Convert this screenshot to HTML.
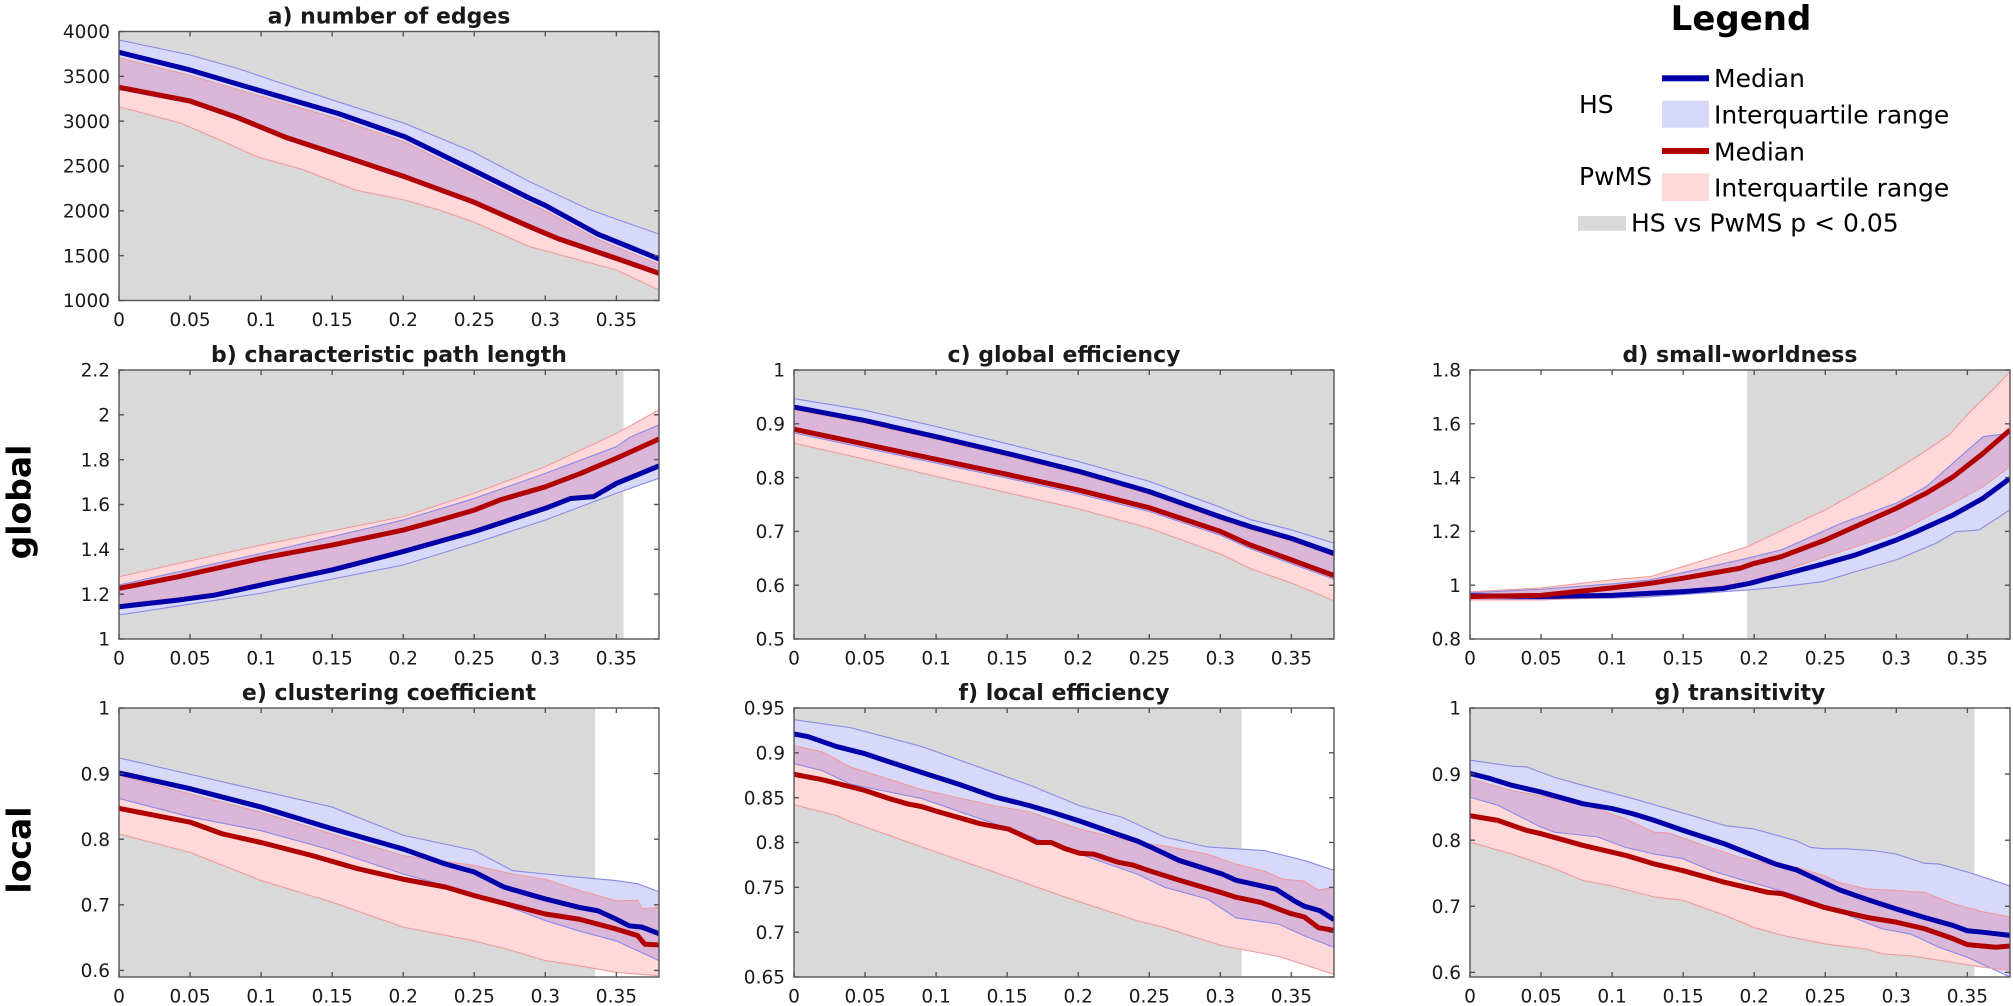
<!DOCTYPE html>
<html><head><meta charset="utf-8">
<style>
html,body{margin:0;padding:0;background:#fff;}
svg{display:block;}
text{font-family:"DejaVu Sans","Liberation Sans",sans-serif;fill:#1a1a1a;}
.tk{font-size:18.5px;}
.tt{font-size:22px;font-weight:bold;fill:#000;}
.lg{font-size:25px;fill:#000;}
.big{font-size:33px;font-weight:bold;fill:#000;}
</style></head><body>
<svg id="s" width="2013" height="1006" viewBox="0 0 2013 1006" xmlns="http://www.w3.org/2000/svg">
<rect x="0" y="0" width="2013" height="1006" fill="#fff"/>
<g id="plots"></g>

<!-- titles -->
<g class="tt" text-anchor="middle">
<text x="389" y="23.5">a) number of edges</text>
<text x="389" y="362">b) characteristic path length</text>
<text x="1064" y="362">c) global efficiency</text>
<text x="1740" y="362">d) small-worldness</text>
<text x="389" y="700">e) clustering coefficient</text>
<text x="1064" y="700">f) local efficiency</text>
<text x="1740" y="700">g) transitivity</text>
</g>

<!-- x tick labels -->
<g class="tk" text-anchor="middle">
<text x="119" y="326">0</text><text x="190.05" y="326">0.05</text><text x="261.1" y="326">0.1</text><text x="332.2" y="326">0.15</text><text x="403.2" y="326">0.2</text><text x="474.3" y="326">0.25</text><text x="545.3" y="326">0.3</text><text x="616.4" y="326">0.35</text>

<text x="119" y="664.5">0</text><text x="190.05" y="664.5">0.05</text><text x="261.1" y="664.5">0.1</text><text x="332.2" y="664.5">0.15</text><text x="403.2" y="664.5">0.2</text><text x="474.3" y="664.5">0.25</text><text x="545.3" y="664.5">0.3</text><text x="616.4" y="664.5">0.35</text>
<text x="794" y="664.5">0</text><text x="865.05" y="664.5">0.05</text><text x="936.1" y="664.5">0.1</text><text x="1007.2" y="664.5">0.15</text><text x="1078.2" y="664.5">0.2</text><text x="1149.3" y="664.5">0.25</text><text x="1220.3" y="664.5">0.3</text><text x="1291.4" y="664.5">0.35</text>
<text x="1470" y="664.5">0</text><text x="1541.05" y="664.5">0.05</text><text x="1612.1" y="664.5">0.1</text><text x="1683.2" y="664.5">0.15</text><text x="1754.2" y="664.5">0.2</text><text x="1825.3" y="664.5">0.25</text><text x="1896.3" y="664.5">0.3</text><text x="1967.4" y="664.5">0.35</text>

<text x="119" y="1002.5">0</text><text x="190.05" y="1002.5">0.05</text><text x="261.1" y="1002.5">0.1</text><text x="332.2" y="1002.5">0.15</text><text x="403.2" y="1002.5">0.2</text><text x="474.3" y="1002.5">0.25</text><text x="545.3" y="1002.5">0.3</text><text x="616.4" y="1002.5">0.35</text>
<text x="794" y="1002.5">0</text><text x="865.05" y="1002.5">0.05</text><text x="936.1" y="1002.5">0.1</text><text x="1007.2" y="1002.5">0.15</text><text x="1078.2" y="1002.5">0.2</text><text x="1149.3" y="1002.5">0.25</text><text x="1220.3" y="1002.5">0.3</text><text x="1291.4" y="1002.5">0.35</text>
<text x="1470" y="1002.5">0</text><text x="1541.05" y="1002.5">0.05</text><text x="1612.1" y="1002.5">0.1</text><text x="1683.2" y="1002.5">0.15</text><text x="1754.2" y="1002.5">0.2</text><text x="1825.3" y="1002.5">0.25</text><text x="1896.3" y="1002.5">0.3</text><text x="1967.4" y="1002.5">0.35</text>
</g>

<!-- y tick labels -->
<g class="tk" text-anchor="end">
<text x="110" y="38.2">4000</text><text x="110" y="83">3500</text><text x="110" y="127.9">3000</text><text x="110" y="172.7">2500</text><text x="110" y="217.5">2000</text><text x="110" y="262.4">1500</text><text x="110" y="307.2">1000</text>

<text x="110" y="376.7">2.2</text><text x="110" y="421.5">2</text><text x="110" y="466.4">1.8</text><text x="110" y="511.2">1.6</text><text x="110" y="556">1.4</text><text x="110" y="600.9">1.2</text><text x="110" y="645.7">1</text>

<text x="785" y="376.7">1</text><text x="785" y="430.5">0.9</text><text x="785" y="484.3">0.8</text><text x="785" y="538.1">0.7</text><text x="785" y="591.9">0.6</text><text x="785" y="645.7">0.5</text>

<text x="1461" y="376.7">1.8</text><text x="1461" y="430.5">1.6</text><text x="1461" y="484.3">1.4</text><text x="1461" y="538.1">1.2</text><text x="1461" y="591.9">1</text><text x="1461" y="645.7">0.8</text>

<text x="110" y="714.7">1</text><text x="110" y="780.3">0.9</text><text x="110" y="845.9">0.8</text><text x="110" y="911.5">0.7</text><text x="110" y="977.1">0.6</text>

<text x="785" y="714.7">0.95</text><text x="785" y="759.5">0.9</text><text x="785" y="804.4">0.85</text><text x="785" y="849.2">0.8</text><text x="785" y="894">0.75</text><text x="785" y="938.9">0.7</text><text x="785" y="983.7">0.65</text>

<text x="1461" y="714.7">1</text><text x="1461" y="780.8">0.9</text><text x="1461" y="846.9">0.8</text><text x="1461" y="913">0.7</text><text x="1461" y="979.1">0.6</text>
</g>

<!-- row labels -->
<text class="big" text-anchor="middle" transform="translate(30.5,502) rotate(-90)">global</text>
<text class="big" text-anchor="middle" transform="translate(30.5,850) rotate(-90)">local</text>

<!-- legend -->
<text x="1741" y="30" text-anchor="middle" style="font-size:34px;font-weight:bold;fill:#000">Legend</text>
<rect x="1662" y="75.3" width="47" height="6" fill="#0000a8"/>
<text class="lg" x="1714" y="87">Median</text>
<text class="lg" x="1579" y="113">HS</text>
<rect x="1662" y="100.7" width="47" height="27" fill="#d8d8fa"/>
<text class="lg" x="1714" y="123.5">Interquartile range</text>
<rect x="1662" y="148" width="47" height="6" fill="#b00000"/>
<text class="lg" x="1714" y="160.7">Median</text>
<text class="lg" x="1579" y="185">PwMS</text>
<rect x="1662" y="173.3" width="47" height="27.7" fill="#ffd9d9"/>
<text class="lg" x="1714" y="196.7">Interquartile range</text>
<rect x="1578" y="216" width="48" height="14.7" fill="#d9d9d9"/>
<text class="lg" x="1631" y="231.7">HS vs PwMS p &lt; 0.05</text>
</svg>

<script>
(function(){
const NS="http://www.w3.org/2000/svg";
const root=document.getElementById('plots');
function el(tag,attrs,parent){const e=document.createElementNS(NS,tag);for(const k in attrs)e.setAttribute(k,attrs[k]);(parent||root).appendChild(e);return e;}
const W=540,H=269,XM=0.38;
function sh(a,d){return a.map(p=>[p[0],p[1]+d]);}

const A_bm=[[0,3768],[0.05,3571],[0.1016,3329],[0.1537,3088],[0.201,2827],[0.249,2456],[0.289,2140],[0.3,2060],[0.337,1740],[0.38,1463]];
const A_rm=[[0,3378],[0.05,3225],[0.083,3043],[0.118,2816],[0.166,2567],[0.201,2381],[0.249,2102],[0.289,1823],[0.309,1690],[0.35,1470],[0.38,1304]];
const B_bm=[[0,1.144],[0.042,1.174],[0.0675,1.196],[0.105,1.248],[0.15,1.308],[0.2,1.390],[0.25,1.479],[0.3,1.583],[0.318,1.627],[0.334,1.635],[0.35,1.694],[0.38,1.772]];
const C_bm=[[0,0.931],[0.05,0.906],[0.1,0.876],[0.15,0.845],[0.2,0.812],[0.25,0.774],[0.3,0.727],[0.321,0.709],[0.35,0.687],[0.38,0.659]];
const C_rm=[[0,0.890],[0.05,0.862],[0.1,0.834],[0.15,0.806],[0.2,0.777],[0.25,0.744],[0.3,0.700],[0.321,0.675],[0.35,0.647],[0.38,0.618]];

const panels=[
{L:119,T:31.5,y0:1000,y1:4000,g:[0,0.38],yt:[1000,1500,2000,2500,3000,3500,4000],
 bm:A_bm, rm:A_rm,
 bu:[[0,3905],[0.05,3738],[0.083,3590],[0.118,3403],[0.154,3217],[0.201,2976],[0.249,2659],[0.289,2325],[0.33,2020],[0.38,1740]],
 bl:sh(A_rm,-25), ru:sh(A_bm,-60),
 rl:[[0,3161],[0.0437,2976],[0.071,2790],[0.097,2604],[0.13,2456],[0.166,2233],[0.201,2121],[0.225,2010],[0.249,1879],[0.289,1600],[0.35,1340],[0.38,1117]]},
{L:119,T:370,y0:1,y1:2.2,g:[0,0.355],yt:[1,1.2,1.4,1.6,1.8,2,2.2],
 bm:B_bm,
 rm:[[0,1.226],[0.042,1.278],[0.1,1.360],[0.15,1.419],[0.2,1.486],[0.23,1.538],[0.25,1.575],[0.268,1.620],[0.3,1.679],[0.325,1.739],[0.35,1.806],[0.38,1.892]],
 ru:[[0,1.278],[0.1,1.419],[0.2,1.546],[0.25,1.650],[0.3,1.769],[0.35,1.917],[0.38,2.022]],
 bu:[[0,1.241],[0.1,1.382],[0.2,1.531],[0.25,1.627],[0.3,1.739],[0.35,1.858],[0.36,1.902],[0.38,1.955]],
 bl:[[0,1.107],[0.1,1.204],[0.2,1.330],[0.25,1.427],[0.3,1.531],[0.35,1.650],[0.38,1.717]],
 rl:sh(B_bm,0.01)},
{L:794,T:370,y0:0.5,y1:1,g:[0,0.38],yt:[0.5,0.6,0.7,0.8,0.9,1],
 bm:C_bm, rm:C_rm,
 bu:[[0,0.947],[0.05,0.925],[0.1,0.895],[0.15,0.863],[0.2,0.830],[0.25,0.793],[0.3,0.745],[0.321,0.722],[0.35,0.703],[0.38,0.678]],
 bl:sh(C_rm,-0.007), ru:sh(C_bm,-0.005),
 rl:[[0,0.864],[0.05,0.834],[0.1,0.802],[0.15,0.772],[0.2,0.742],[0.25,0.706],[0.3,0.658],[0.321,0.631],[0.35,0.604],[0.38,0.571]]},
{L:1470,T:370,y0:0.8,y1:1.8,g:[0.195,0.38],yt:[0.8,1,1.2,1.4,1.6,1.8],
 bm:[[0,0.961],[0.05,0.958],[0.1,0.962],[0.127,0.970],[0.15,0.976],[0.178,0.988],[0.197,1.007],[0.219,1.038],[0.25,1.081],[0.271,1.112],[0.3,1.168],[0.314,1.199],[0.34,1.261],[0.361,1.323],[0.38,1.397]],
 rm:[[0,0.958],[0.05,0.962],[0.1,0.990],[0.127,1.007],[0.15,1.026],[0.19,1.063],[0.2,1.081],[0.219,1.106],[0.25,1.168],[0.3,1.286],[0.321,1.342],[0.34,1.403],[0.361,1.490],[0.38,1.577]],
 ru:[[0,0.975],[0.05,0.99],[0.1,1.02],[0.127,1.032],[0.195,1.143],[0.25,1.280],[0.29,1.397],[0.318,1.490],[0.337,1.558],[0.351,1.639],[0.37,1.738],[0.38,1.794]],
 bu:[[0,0.972],[0.05,0.985],[0.1,1.005],[0.127,1.02],[0.19,1.094],[0.219,1.131],[0.261,1.230],[0.3,1.305],[0.321,1.366],[0.361,1.552],[0.38,1.565]],
 bl:[[0,0.945],[0.05,0.948],[0.1,0.952],[0.127,0.957],[0.195,0.982],[0.219,0.994],[0.248,1.013],[0.271,1.050],[0.3,1.094],[0.328,1.156],[0.342,1.199],[0.358,1.205],[0.38,1.280]],
 rl:[[0,0.945],[0.05,0.945],[0.1,0.955],[0.127,0.960],[0.197,1.013],[0.25,1.106],[0.3,1.193],[0.34,1.305],[0.361,1.366],[0.38,1.441]]},
{L:119,T:708,y0:0.59,y1:1,g:[0,0.335],yt:[0.6,0.7,0.8,0.9,1],
 bm:[[0,0.901],[0.05,0.877],[0.1,0.849],[0.15,0.816],[0.2,0.785],[0.23,0.762],[0.25,0.750],[0.271,0.727],[0.3,0.709],[0.324,0.696],[0.337,0.691],[0.35,0.678],[0.359,0.668],[0.368,0.666],[0.38,0.656]],
 rm:[[0,0.847],[0.05,0.826],[0.073,0.808],[0.1,0.795],[0.136,0.775],[0.168,0.755],[0.2,0.739],[0.23,0.727],[0.25,0.714],[0.3,0.686],[0.324,0.678],[0.35,0.663],[0.365,0.653],[0.37,0.640],[0.38,0.639]],
 bu:[[0,0.924],[0.1,0.874],[0.15,0.849],[0.2,0.806],[0.25,0.783],[0.277,0.752],[0.3,0.747],[0.324,0.742],[0.35,0.737],[0.365,0.732],[0.38,0.720]],
 bl:[[0,0.862],[0.05,0.834],[0.1,0.813],[0.15,0.783],[0.2,0.747],[0.25,0.717],[0.3,0.676],[0.324,0.660],[0.35,0.645],[0.365,0.630],[0.38,0.615]],
 ru:[[0,0.897],[0.1,0.841],[0.2,0.775],[0.25,0.760],[0.277,0.747],[0.3,0.739],[0.324,0.722],[0.35,0.706],[0.365,0.707],[0.368,0.694],[0.38,0.696]],
 rl:[[0,0.808],[0.05,0.780],[0.1,0.737],[0.15,0.704],[0.2,0.666],[0.25,0.645],[0.277,0.630],[0.3,0.615],[0.324,0.607],[0.35,0.597],[0.38,0.592]]},
{L:794,T:708,y0:0.65,y1:0.95,g:[0,0.315],yt:[0.65,0.7,0.75,0.8,0.85,0.9,0.95],
 bm:[[0,0.921],[0.01,0.918],[0.03,0.907],[0.05,0.899],[0.065,0.891],[0.09,0.878],[0.116,0.865],[0.141,0.851],[0.166,0.841],[0.181,0.834],[0.201,0.824],[0.226,0.810],[0.241,0.802],[0.251,0.795],[0.271,0.780],[0.301,0.765],[0.311,0.758],[0.339,0.748],[0.352,0.735],[0.359,0.729],[0.370,0.724],[0.38,0.714]],
 rm:[[0,0.876],[0.02,0.870],[0.05,0.858],[0.065,0.850],[0.08,0.843],[0.09,0.840],[0.1,0.835],[0.131,0.821],[0.151,0.815],[0.166,0.804],[0.171,0.800],[0.181,0.800],[0.191,0.793],[0.201,0.788],[0.211,0.787],[0.228,0.778],[0.238,0.775],[0.251,0.768],[0.271,0.758],[0.301,0.744],[0.311,0.739],[0.329,0.733],[0.349,0.721],[0.359,0.717],[0.369,0.705],[0.38,0.702]],
 bu:[[0,0.937],[0.04,0.928],[0.09,0.907],[0.141,0.878],[0.166,0.864],[0.201,0.841],[0.231,0.828],[0.261,0.806],[0.291,0.795],[0.321,0.792],[0.331,0.791],[0.359,0.780],[0.38,0.769]],
 bl:[[0,0.888],[0.02,0.880],[0.04,0.865],[0.09,0.849],[0.141,0.821],[0.201,0.787],[0.241,0.765],[0.261,0.750],[0.291,0.737],[0.311,0.716],[0.341,0.709],[0.359,0.696],[0.38,0.683]],
 ru:[[0,0.908],[0.02,0.901],[0.04,0.884],[0.09,0.859],[0.141,0.841],[0.166,0.834],[0.201,0.815],[0.241,0.800],[0.261,0.796],[0.291,0.787],[0.311,0.776],[0.331,0.768],[0.344,0.759],[0.359,0.757],[0.369,0.747],[0.38,0.750]],
 rl:[[0,0.842],[0.03,0.830],[0.04,0.823],[0.09,0.795],[0.141,0.767],[0.191,0.739],[0.241,0.713],[0.261,0.705],[0.271,0.700],[0.301,0.685],[0.341,0.673],[0.38,0.653]]},
{L:1470,T:708,y0:0.593,y1:1,g:[0,0.355],yt:[0.6,0.7,0.8,0.9,1],
 bm:[[0,0.901],[0.0145,0.893],[0.0295,0.883],[0.0496,0.873],[0.0796,0.855],[0.0996,0.848],[0.1146,0.840],[0.1297,0.830],[0.1497,0.815],[0.1797,0.794],[0.1997,0.777],[0.2148,0.764],[0.2298,0.755],[0.2498,0.735],[0.2598,0.725],[0.2798,0.710],[0.2999,0.696],[0.3199,0.683],[0.3399,0.671],[0.3499,0.663],[0.36,0.661],[0.38,0.656]],
 rm:[[0,0.837],[0.0195,0.830],[0.0395,0.815],[0.0496,0.810],[0.0796,0.792],[0.0996,0.782],[0.1096,0.777],[0.1297,0.764],[0.1497,0.754],[0.1797,0.736],[0.1997,0.726],[0.2098,0.721],[0.2198,0.719],[0.2498,0.698],[0.2598,0.693],[0.2798,0.683],[0.2999,0.676],[0.3199,0.666],[0.3399,0.651],[0.3499,0.642],[0.37,0.638],[0.38,0.640]],
 bu:[[0,0.921],[0.0295,0.912],[0.0395,0.911],[0.0596,0.895],[0.0796,0.883],[0.1146,0.863],[0.1597,0.835],[0.1797,0.822],[0.1997,0.817],[0.2298,0.799],[0.2398,0.789],[0.2498,0.787],[0.2648,0.787],[0.2848,0.784],[0.2999,0.779],[0.3199,0.765],[0.3299,0.764],[0.3499,0.752],[0.38,0.731]],
 bl:[[0,0.865],[0.0195,0.853],[0.0496,0.820],[0.0596,0.812],[0.0896,0.805],[0.1096,0.789],[0.1297,0.779],[0.1497,0.772],[0.1697,0.754],[0.1897,0.741],[0.2098,0.729],[0.2298,0.716],[0.2498,0.701],[0.2698,0.683],[0.2898,0.666],[0.3099,0.658],[0.3299,0.638],[0.3499,0.623],[0.38,0.593]],
 ru:[[0,0.893],[0.0295,0.875],[0.0796,0.855],[0.1096,0.832],[0.1297,0.812],[0.1397,0.811],[0.1647,0.792],[0.1897,0.774],[0.2098,0.764],[0.2298,0.759],[0.2498,0.746],[0.2598,0.736],[0.2798,0.726],[0.2999,0.724],[0.3199,0.721],[0.3399,0.704],[0.36,0.692],[0.38,0.684]],
 rl:[[0,0.797],[0.0295,0.779],[0.0596,0.757],[0.0796,0.739],[0.0996,0.731],[0.1297,0.714],[0.1497,0.709],[0.1797,0.686],[0.1997,0.668],[0.2198,0.656],[0.2498,0.643],[0.2798,0.635],[0.2898,0.628],[0.3099,0.625],[0.3399,0.615],[0.36,0.608],[0.38,0.603]]}
];

const defs=el('defs',{});
panels.forEach((p,i)=>{
  const X=x=>p.L+x/XM*W, Y=v=>p.T+(p.y1-v)/(p.y1-p.y0)*H;
  const pts=a=>a.map(q=>X(q[0]).toFixed(2)+','+Y(q[1]).toFixed(2)).join(' ');
  const band=(u,l)=>pts(u)+' '+pts(l.slice().reverse());
  const cid='ax'+i, bid='bb'+i;
  const cp=el('clipPath',{id:cid},defs); el('rect',{x:p.L,y:p.T,width:W,height:H},cp);
  const bp=el('clipPath',{id:bid},defs); el('polygon',{points:band(p.bu,p.bl)},bp);
  const g=el('g',{'clip-path':'url(#'+cid+')'});
  el('rect',{x:X(p.g[0]),y:p.T,width:X(p.g[1])-X(p.g[0]),height:H,fill:'#d9d9d9'},g);
  el('polygon',{points:band(p.bu,p.bl),fill:'#d8d8fa'},g);
  el('polygon',{points:band(p.ru,p.rl),fill:'#ffd9d9'},g);
  const g2=el('g',{'clip-path':'url(#'+bid+')'},g);
  el('polygon',{points:band(p.ru,p.rl),fill:'#dab7d9'},g2);
  [p.bu,p.bl].forEach(a=>el('polyline',{points:pts(a),fill:'none',stroke:'#8a8ae6','stroke-width':1.1},g));
  [p.ru,p.rl].forEach(a=>el('polyline',{points:pts(a),fill:'none',stroke:'#ef9c9c','stroke-width':1.1},g));
  el('polyline',{points:pts(p.bm),fill:'none',stroke:'#0000a8','stroke-width':5,'stroke-linejoin':'round'},g);
  el('polyline',{points:pts(p.rm),fill:'none',stroke:'#b00000','stroke-width':5,'stroke-linejoin':'round'},g);
  // axes
  const ax=el('g',{stroke:'#555','stroke-width':1.4,fill:'none'});
  el('rect',{x:p.L,y:p.T,width:W,height:H},ax);
  for(let k=0;k<=7;k++){
    const x=X(k*0.05);
    el('line',{x1:x,y1:p.T+H,x2:x,y2:p.T+H-5},ax);
    el('line',{x1:x,y1:p.T,x2:x,y2:p.T+5},ax);
  }
  p.yt.forEach(v=>{
    const y=Y(v);
    el('line',{x1:p.L,y1:y,x2:p.L+5,y2:y},ax);
    el('line',{x1:p.L+W,y1:y,x2:p.L+W-5,y2:y},ax);
  });
});
})();
</script>
</body></html>
